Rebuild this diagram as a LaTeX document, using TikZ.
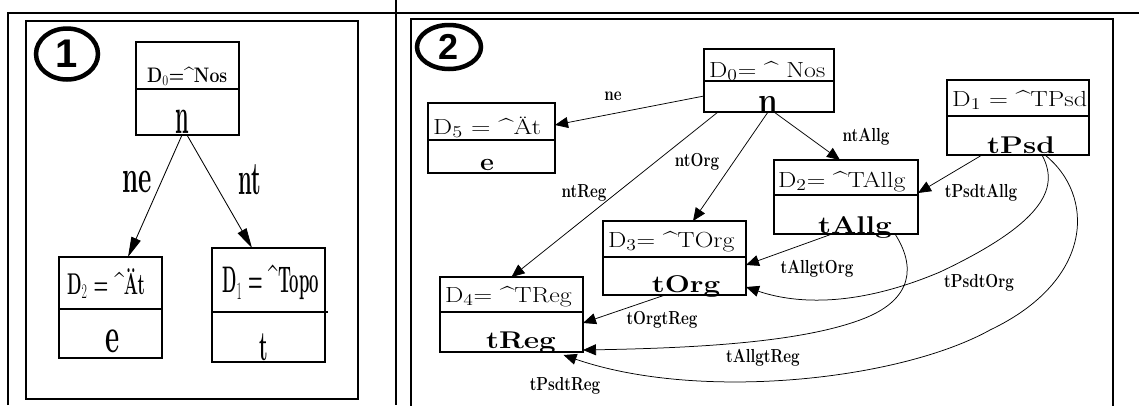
\documentclass[tikz,border=0pt]{standalone}
\usepackage{fontspec}
\setsansfont{Liberation Sans}
\usetikzlibrary{arrows.meta,shapes.geometric}
% text at a given size, stretched horizontally (and vertically)
\newcommand\htext[4]{\scalebox{#2}[#3]{\fontsize{#1}{#1}\selectfont #4}}
\newcommand\btext[3]{\scalebox{#2}[1]{\fontsize{#1}{#1}\selectfont\bfseries #3}}
\newcommand\stext[4]{\scalebox{#2}[#3]{\fontsize{#1}{#1}\selectfont\bfseries #4}}
\newcommand\crt{\textasciicircum}
\begin{document}
\begin{tikzpicture}[x=1pt,y=-1pt,
  box/.style={draw,line width=1.1pt,inner sep=0pt,outer sep=0pt},
  divider/.style={line width=1.1pt},
  lbl/.style={inner sep=0pt},
  link/.style={line width=0.75pt,-{Triangle[length=13pt,width=11pt]}},
  linkL/.style={line width=0.85pt,-{Triangle[length=20pt,width=10pt]}},
  frame/.style={line width=2.4pt},
  panel/.style={line width=1.5pt},
  badge/.style={draw,ellipse,line width=4.5pt,inner sep=0pt,font=\sffamily\bfseries}]
\useasboundingbox (0,0) rectangle (1139,405);

% table rules
\draw[frame] (8,405) -- (8,12.7) -- (1139,12.7);
\draw[frame] (396,0) -- (396,405);

% panel borders
\draw[panel] (26,21) rectangle (358,399);
\draw[panel] (411,410) -- (411,19) -- (1113,19) -- (1113,410);

% ---------- panel 1 ----------
\node[badge,minimum width=62,minimum height=51] (c1) at (67,54) {\fontsize{40}{40}\selectfont 1};

\node[box,minimum width=103,minimum height=93] (L0) at (187.5,88.5) {};
\draw[divider] (L0.west |- 0,89) -- (L0.east |- 0,89);
\node[lbl,anchor=base west] (L0h) at (147,82) {\btext{21}{0.84}{D$_0$=\crt Nos}};
\node[lbl,anchor=base] (L0t) at (182,133) {\btext{52}{0.42}{n}};

\node[box,minimum width=103,minimum height=101] (L2) at (110.5,307.5) {};
\draw[divider] (L2.west |- 0,309) -- (L2.east |- 0,309);
\node[lbl,anchor=base west] (L2h) at (67,294) {\btext{30}{0.56}{D$_2$ = \crt Ät}};
\node[lbl,anchor=base] (L2t) at (113,352) {\btext{50}{0.55}{e}};

\node[box,minimum width=113,minimum height=114] (L1) at (268.5,305) {};
\draw[divider] (L1.west |- 0,312) -- ([xshift=3pt]L1.east |- 0,312);
\node[lbl,anchor=base west] (L1h) at (222,292) {\btext{37}{0.45}{D$_1$ = \crt Topo}};
\node[lbl,anchor=base] (L1t) at (264,360) {\btext{42}{0.47}{t}};

\draw[linkL] ([xshift=-5.5pt]L0.south) -- ([xshift=17.5pt]L2.north);
\draw[linkL] ([xshift=-0.5pt]L0.south) -- ([xshift=-16.5pt]L1.north);
\node[lbl] (lne) at (137,182) {\btext{47}{0.55}{ne}};
\node[lbl] (lnt) at (250,180) {\btext{47}{0.47}{nt}};

% ---------- panel 2 ----------
\node[badge,minimum width=64,minimum height=44] (c2) at (449,47) {\fontsize{36}{36}\selectfont 2};

\node[box,minimum width=130,minimum height=63] (R0) at (769,80.5) {};
\draw[divider] (R0.west |- 0,81) -- (R0.east |- 0,81);
\node[lbl,anchor=base west] (R0h) at (709,77) {\htext{19}{1.36}{1.15}{D$_0$= \crt\ Nos}};
\node[lbl,anchor=base] (R0t) at (768,113) {\btext{38}{0.83}{n}};

\node[box,minimum width=127,minimum height=70] (R5) at (491.5,138) {};
\draw[divider] (R5.west |- 0,140) -- (R5.east |- 0,140);
\node[lbl,anchor=base west] (R5h) at (433,134) {\htext{19}{1.42}{1.15}{D$_5$ = \crt Ät}};
\node[lbl,anchor=base] (R5t) at (487,170) {\stext{22.5}{1.2}{1.1}{e}};

\node[box,minimum width=142,minimum height=75] (R1) at (1018,117.5) {};
\draw[divider] (R1.west |- 0,116) -- (R1.east |- 0,116);
\node[lbl,anchor=base west] (R1h) at (952,106) {\htext{19}{1.38}{1.15}{D$_1$ = \crt TPsd}};
\node[lbl,anchor=base] (R1t) at (1021,153) {\stext{22}{1.35}{1.1}{tPsd}};

\node[box,minimum width=144,minimum height=74] (R2) at (846,197) {};
\draw[divider] (R2.west |- 0,195) -- (R2.east |- 0,195);
\node[lbl,anchor=base west] (R2h) at (778,187) {\htext{19}{1.36}{1.15}{D$_2$= \crt TAllg}};
\node[lbl,anchor=base] (R2t) at (855,233) {\stext{22}{1.35}{1.1}{tAllg}};

\node[box,minimum width=143,minimum height=74] (R3) at (674.5,258) {};
\draw[divider] (R3.west |- 0,257) -- (R3.east |- 0,257);
\node[lbl,anchor=base west] (R3h) at (608,247) {\htext{19}{1.36}{1.15}{D$_3$= \crt TOrg}};
\node[lbl,anchor=base] (R3t) at (686,292) {\stext{22}{1.35}{1.1}{tOrg}};

\node[box,minimum width=143,minimum height=75] (R4) at (511.5,314.5) {};
\draw[divider] (R4.west |- 0,312) -- (R4.east |- 0,312);
\node[lbl,anchor=base west] (R4h) at (445,302) {\htext{19}{1.36}{1.15}{D$_4$= \crt TReg}};
\node[lbl,anchor=base] (R4t) at (521,348) {\stext{22}{1.35}{1.1}{tReg}};

% straight links
\draw[link] ([yshift=-15.5pt]R0.west) -- ([yshift=13pt]R5.east);
\draw[link] ([xshift=14pt]R0.south west) -- (R4.north);
\draw[link] ([xshift=-1pt]R0.south) -- ([xshift=18.5pt]R3.north);
\draw[link] ([xshift=5pt]R0.south) -- ([xshift=-6pt]R2.north);
\draw[link] ([xshift=-36pt]R1.south) -- ([yshift=4pt]R2.east);
\draw[link] ([xshift=-14pt]R2.south) -- ([yshift=-7pt]R3.east);
\draw[link] ([xshift=-9.5pt]R3.south) -- ([yshift=-8.5pt]R4.east);

% curved links
\coordinate (k1) at (940,272);
\coordinate (k2) at (860,320);
\coordinate (k3) at (990,330);
\draw[link] ([xshift=24pt]R1.south) .. controls (1058,185) and (1050,220) .. (k1)
  .. controls (850,310) and (790,302) .. ([yshift=8pt]R3.south east);
\draw[link] ([xshift=49pt]R2.south) .. controls (915,265) and (915,300) .. (k2)
  .. controls (800,342) and (700,348) .. ([yshift=2pt]R4.south east);
\draw[link] ([xshift=27pt]R1.south) .. controls (1095,195) and (1095,280) .. (k3)
  .. controls (900,380) and (700,402) .. ([xshift=52pt,yshift=-3pt]R4.south);

% link labels
\node[lbl] (ne)  at (613,96)  {\stext{14.5}{1.05}{1.3}{ne}};
\node[lbl] (ntReg) at (584,193) {\stext{14.5}{1.05}{1.3}{ntReg}};
\node[lbl] (ntOrg) at (697,162) {\stext{14.5}{1.05}{1.3}{ntOrg}};
\node[lbl] (ntAllg) at (866,137) {\stext{14.5}{1.05}{1.3}{ntAllg}};
\node[lbl] (tPsdtAllg) at (981,193) {\stext{14.5}{1.05}{1.3}{tPsdtAllg}};
\node[lbl] (tAllgtOrg) at (817,269) {\stext{14.5}{1.05}{1.3}{tAllgtOrg}};
\node[lbl] (tPsdtOrg) at (979,283) {\stext{14.5}{1.05}{1.3}{tPsdtOrg}};
\node[lbl] (tAllgtReg) at (763,358) {\stext{14.5}{1.05}{1.3}{tAllgtReg}};
\node[lbl] (tOrgtReg) at (662,320) {\stext{14.5}{1.05}{1.3}{tOrgtReg}};
\node[lbl] (tPsdtReg) at (565,386) {\stext{14.5}{1.05}{1.3}{tPsdtReg}};
\end{tikzpicture}
\end{document}
